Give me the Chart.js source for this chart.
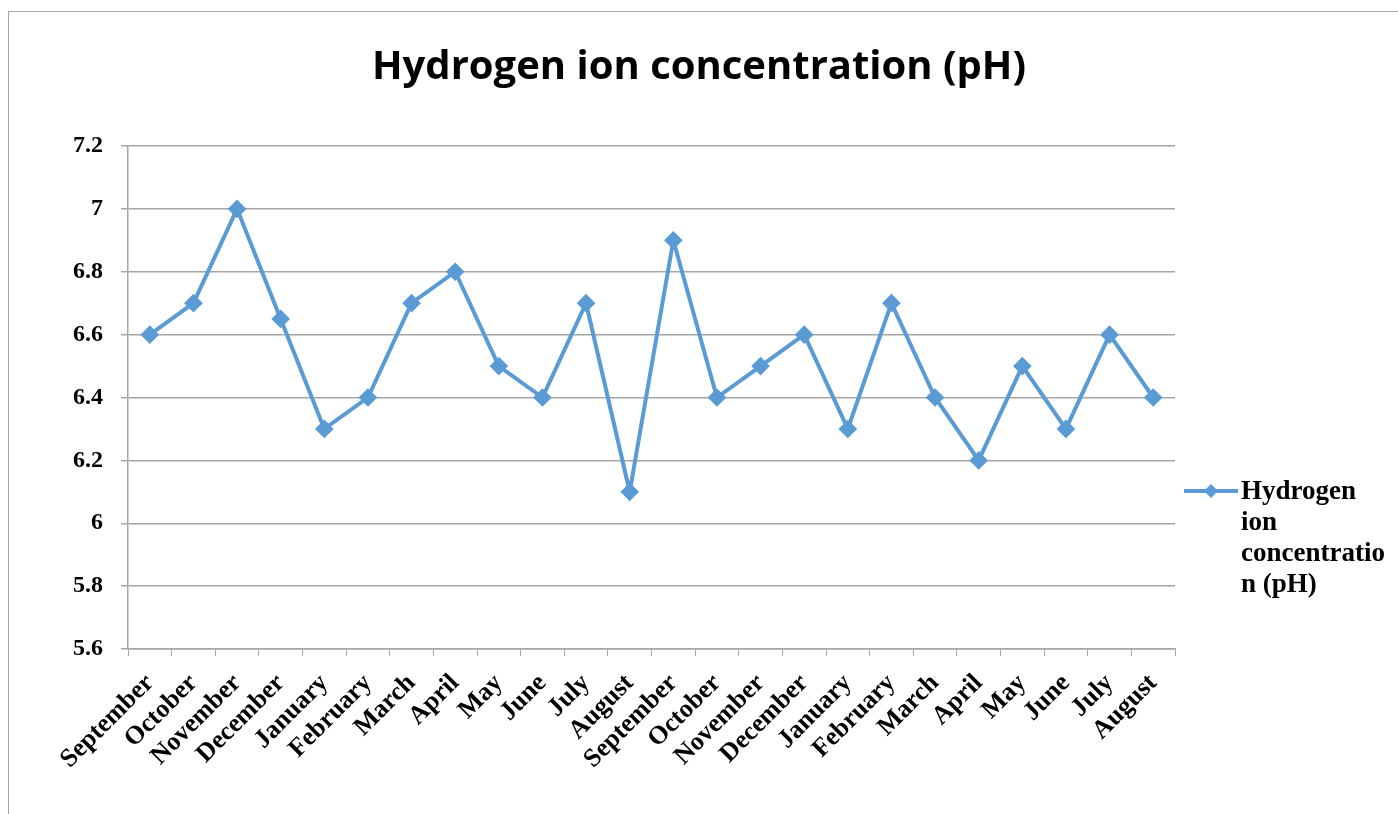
<!DOCTYPE html>
<html>
<head>
<meta charset="utf-8">
<script src="https://cdn.jsdelivr.net/npm/chart.js@4/dist/chart.umd.min.js"></script>
<style>
  html, body { margin: 0; padding: 0; background: #fff; overflow: hidden; }
  #frame { position: absolute; left: 8px; top: 11px; width: 1400px; height: 820px;
           border-left: 1px solid #a6a6a6; border-top: 1px solid #a6a6a6; }
  #wrap { position: absolute; left: 0; top: 0; width: 1398px; height: 814px; }
</style>
</head>
<body>
<div id="frame"></div>
<div id="wrap"><canvas id="phChart"></canvas></div>
<script>
// months of the two sampling years
const meses = ['September', 'October', 'November', 'December', 'January', 'February', 'March', 'April',
    'May', 'June', 'July', 'August', 'September', 'October', 'November', 'December',
    'January', 'February', 'March', 'April', 'May', 'June', 'July', 'August']

const valoresPH = [6.6, 6.7, 7.0, 6.65, 6.3, 6.4, 6.7, 6.8, 6.5, 6.4, 6.7, 6.1,
    6.9, 6.4, 6.5, 6.6, 6.3, 6.7, 6.4, 6.2, 6.5, 6.3, 6.6, 6.4]

const eixoY = { min: 5.6, max: 7.2, passo: 0.2 }

const tituloGrafico = 'Hydrogen ion concentration (pH)'
const nomeSerie = 'Hydrogen ion concentration (pH)'
// legend text as Excel wrapped it
const linhasLegenda = ['Hydrogen', 'ion', 'concentratio', 'n (pH)']

const azul = '#5b9bd5'
const cinza = '#a6a6a6'
const fonteSerif = '"Liberation Serif", "Times New Roman", serif'

// legend drawn beside the plot, Excel style
const legendaLateral = {
    id: 'legendaLateral',
    afterDraw(chart) {
        const ctx = chart.ctx
        const area = chart.chartArea
        const x0 = area.right + 9
        const y0 = 491
        ctx.save()
        ctx.strokeStyle = azul
        ctx.lineWidth = 4
        ctx.beginPath()
        ctx.moveTo(x0, y0)
        ctx.lineTo(x0 + 54, y0)
        ctx.stroke()
        ctx.fillStyle = azul
        ctx.beginPath()
        ctx.moveTo(x0 + 27, y0 - 7)
        ctx.lineTo(x0 + 34, y0)
        ctx.lineTo(x0 + 27, y0 + 7)
        ctx.lineTo(x0 + 20, y0)
        ctx.closePath()
        ctx.fill()
        ctx.fillStyle = '#000'
        ctx.font = 'bold 27px ' + fonteSerif
        ctx.textBaseline = 'alphabetic'
        ctx.textAlign = 'left'
        linhasLegenda.forEach((linha, i) => {
            ctx.fillText(linha, x0 + 57, y0 + 8 + i * 31)
        })
        ctx.restore()
    }
}

const ctx = document.getElementById('phChart').getContext('2d')

new Chart(ctx, {
    type: 'line',
    data: {
        labels: meses,
        datasets: [{
            label: nomeSerie,
            data: valoresPH,
            borderColor: azul,
            backgroundColor: azul,
            borderWidth: 4,
            pointStyle: 'rectRot',
            pointRadius: 6.5,
            pointHoverRadius: 6.5,
            tension: 0
        }]
    },
    options: {
        responsive: true,
        maintainAspectRatio: false,
        animation: false,
        layout: {
            padding: 0
        },
        scales: {
            x: {
                offset: true,
                grid: {
                    offset: true,
                    drawOnChartArea: false,
                    drawTicks: true,
                    tickLength: 7,
                    color: cinza
                },
                border: { color: cinza, width: 1.5 },
                ticks: {
                    color: '#000',
                    font: { family: fonteSerif, size: 26, weight: 'bold' },
                    minRotation: 45,
                    maxRotation: 45,
                    autoSkip: false,
                    padding: 12
                },
                afterFit(scale) { scale.height = 165 }
            },
            y: {
                min: eixoY.min,
                max: eixoY.max,
                grid: {
                    color: cinza,
                    lineWidth: 1.5,
                    tickLength: 7
                },
                border: { color: cinza, width: 1.5 },
                ticks: {
                    stepSize: eixoY.passo,
                    color: '#000',
                    font: { family: fonteSerif, size: 24, weight: 'bold' },
                    padding: 18,
                    callback: v => parseFloat(v.toFixed(1)).toString()
                },
                afterFit(scale) { scale.width = 128 }
            },
            // empty right-hand space reserved for the legend, keeps the title centred on the page
            espacoLegenda: {
                position: 'right',
                display: true,
                grid: { display: false, drawTicks: false },
                border: { display: false },
                ticks: { display: false },
                afterFit(scale) { scale.width = 223 }
            }
        },
        plugins: {
            legend: { display: false },
            tooltip: { enabled: false },
            title: {
                display: true,
                text: tituloGrafico,
                color: '#000',
                font: { family: '"Open Sans", Lato, sans-serif', size: 40, weight: 'bold', lineHeight: 1.2 },
                padding: { top: 44, bottom: 54 }
            }
        }
    },
    plugins: [legendaLateral]
})
</script>
</body>
</html>
